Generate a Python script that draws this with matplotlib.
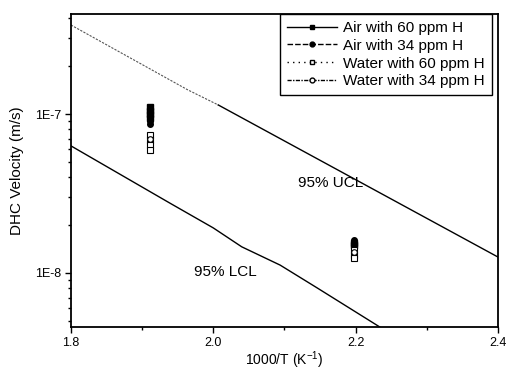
import matplotlib
matplotlib.use("Agg")
import matplotlib.pyplot as plt
from matplotlib.lines import Line2D
from matplotlib.ticker import LogLocator, NullFormatter, FixedLocator

plt.rcParams['font.family'] = ['Liberation Sans', 'DejaVu Sans']

# Confidence limits
ucl_x = [1.8, 1.964, 2.007, 2.4]
ucl_y = [3.63e-7, 1.42e-7, 1.14e-7, 1.26e-8]
lcl_x = [1.8, 1.939, 2.0, 2.04, 2.094, 2.146, 2.234]
lcl_y = [6.3e-8, 2.75e-8, 1.92e-8, 1.46e-8, 1.12e-8, 8.05e-9, 4.57e-9]

# Data series
air60_x = [1.911, 1.911, 1.911, 1.911, 2.198, 2.198]
air60_y = [1.1e-7, 1.05e-7, 1.0e-7, 9.5e-8, 1.55e-8, 1.5e-8]
air34_x = [1.911, 1.911, 2.198]
air34_y = [9.0e-8, 8.6e-8, 1.6e-8]
wat60_x = [1.911, 1.911, 1.911, 1.911, 2.198, 2.198, 2.198]
wat60_y = [7.4e-8, 6.9e-8, 6.4e-8, 5.9e-8, 1.4e-8, 1.3e-8, 1.24e-8]
wat34_x = [1.911, 2.198]
wat34_y = [7.0e-8, 1.35e-8]

xticks = [1.8, 2.0, 2.2, 2.4]
xticklabels = ['1.8', '2.0', '2.2', '2.4']

fig = plt.figure(figsize=(5.07, 3.72), dpi=100)
ax = fig.add_axes([0.140, 0.121, 0.842, 0.841])

# UCL: faint dotted at the left, solid further right (as in the scan)
ax.plot(ucl_x[:3], ucl_y[:3], color='#555555', lw=0.8, ls=(0, (2, 1.2)))
ax.plot(ucl_x[2:], ucl_y[2:], color='black', lw=1.0)
ax.plot(lcl_x, lcl_y, color='black', lw=1.0)

ax.plot(air60_x, air60_y, ls='none', marker='s', ms=4, color='black')
ax.plot(air34_x, air34_y, ls='none', marker='o', ms=4, color='black')
ax.plot(wat60_x, wat60_y, ls='none', marker='s', ms=4, mfc='white', mec='black', mew=0.8)
ax.plot(wat34_x, wat34_y, ls='none', marker='o', ms=4, mfc='white', mec='black', mew=0.8)

ax.set_yscale('log')
ax.set_xlim(1.8, 2.4)
ax.set_ylim(4.57e-9, 4.25e-7)
ax.yaxis.set_major_locator(FixedLocator([1e-8, 1e-7]))
ax.set_yticklabels(['1E-8', '1E-7'])
ax.yaxis.set_minor_locator(LogLocator(base=10, subs=range(2, 10)))
ax.yaxis.set_minor_formatter(NullFormatter())
ax.set_xticks(xticks)
ax.set_xticklabels(xticklabels)
ax.set_xticks([1.9, 2.1, 2.3], minor=True)

ax.tick_params(which='both', direction='out', top=False, right=False, labelsize=9)
ax.tick_params(which='major', length=4, width=1, pad=3)
ax.tick_params(which='minor', length=2.5, width=1)
for s in ax.spines.values():
    s.set_linewidth(1.3)

ax.set_xlabel('1000/T (K$^{\\mathregular{-1}}$)', fontsize=10, labelpad=0.5)
ax.set_ylabel('DHC Velocity (m/s)', fontsize=11, labelpad=8)

ax.text(2.165, 3.7e-8, '95% UCL', fontsize=11, ha='center', va='center')
ax.text(2.017, 1.01e-8, '95% LCL', fontsize=11, ha='center', va='center')

handles = [
    Line2D([], [], color='black', lw=1, marker='s', ms=3.5, label='Air with 60 ppm H'),
    Line2D([], [], color='black', lw=1, ls=(0, (4, 1.5)), marker='o', ms=3.5, label='Air with 34 ppm H'),
    Line2D([], [], color='black', lw=1, ls=(0, (1, 3)), marker='s', ms=3.5, mfc='white', label='Water with 60 ppm H'),
    Line2D([], [], color='black', lw=1, ls=(0, (3, 1, 1, 1)), marker='o', ms=3.5, mfc='white', label='Water with 34 ppm H'),
]
leg = ax.legend(handles=handles, loc='upper right', bbox_to_anchor=(0.986, 1.0), fontsize=11,
                frameon=True, fancybox=False, edgecolor='black', framealpha=1,
                handlelength=3.3, handletextpad=0.4, borderpad=0.45, labelspacing=0.25,
                borderaxespad=0.0)
leg.get_frame().set_linewidth(1.0)

fig.savefig('out.png', dpi=100)
